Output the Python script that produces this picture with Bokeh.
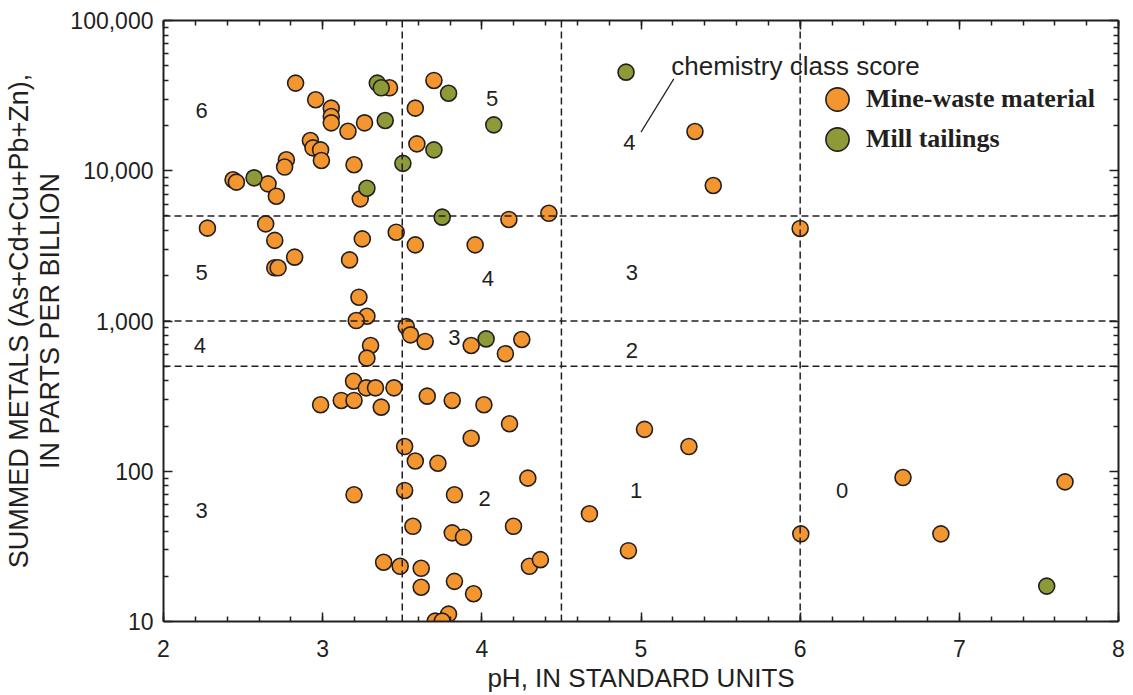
from bokeh.plotting import figure
from bokeh.models import (LinearAxis, LogAxis, FixedTicker, NumeralTickFormatter,
                          Span, Legend, LegendItem)
from bokeh.core.properties import value
from bokeh.embed import file_html
from bokeh.resources import INLINE

# ---------------- data ----------------
mine_ph = [2.83, 2.956, 3.054, 3.054, 3.054, 3.159, 3.263, 3.42, 3.699, 3.582,
           3.592, 3.197, 2.923, 2.939, 2.987, 2.992, 2.772, 2.761, 2.437, 2.458,
           2.657, 2.709, 3.236, 4.17, 4.421, 2.276, 2.642, 2.699, 2.824, 2.699,
           2.72, 3.169, 3.249, 3.462, 3.582, 3.958, 3.228, 5.339, 5.454, 6.0,
           3.278, 3.211, 3.525, 3.552, 3.644, 3.301, 3.278, 3.933, 4.148, 4.251,
           3.194, 3.274, 3.332, 3.448, 3.117, 3.197, 2.987, 3.368, 3.657, 3.814,
           4.013, 4.174, 3.933, 3.515, 3.582, 3.724, 4.289, 3.197, 3.515, 3.828,
           4.676, 3.567, 3.814, 3.885, 4.199, 3.383, 3.487, 3.619, 3.619, 3.828,
           3.948, 4.299, 4.368, 3.791, 3.707, 3.751,
           5.022, 5.301, 4.921, 6.004, 6.646, 6.884, 7.664]
mine_metals = [38300, 29700, 26100, 22960, 20840, 18300, 20840, 35650, 39900, 26100,
               15100, 10960, 15900, 14200, 13770, 11700, 11840, 10580, 8710, 8400,
               8180, 6770, 6500, 4740, 5210, 4150, 4430, 3440, 2660, 2260,
               2260, 2550, 3520, 3900, 3210, 3210, 1440, 18240, 7980, 4130,
               1076, 1007, 918, 809, 731, 687, 566, 687, 606, 753,
               397, 359, 359, 359, 296, 296, 277, 267, 316, 296,
               277, 207, 166, 146, 117, 113, 90, 69.7, 74.5, 69.7,
               52.1, 43, 38.9, 36.4, 43, 24.8, 23.3, 22.6, 16.9, 18.5,
               15.3, 23.3, 25.8, 11.2, 10.05, 10.05,
               190, 146, 29.6, 38.3, 90.8, 38.3, 85]

mill_ph = [3.343, 3.368, 3.393, 3.791, 4.075, 3.699, 3.504, 2.569, 3.278, 3.751,
           4.027, 4.906, 7.549]
mill_metals = [38300, 35650, 21600, 32800, 20200, 13770, 11200, 8970, 7650, 4910,
               760, 45300, 17.2]

# class boundaries
ph_bounds = [3.5, 4.5, 6.0]
metal_bounds = [5000, 1000, 500]

# chemistry class score labels
score_x = [2.239, 4.065, 4.927, 2.239, 4.038, 4.943, 2.228, 3.828, 4.943,
           2.239, 4.017, 4.97, 6.264]
score_y = [25200, 30100, 15500, 2113, 1910, 2113, 687, 780, 637,
           54.8, 65.6, 74, 74]
score_text = ["6", "5", "4", "5", "4", "3", "4", "3", "2", "3", "2", "1", "0"]

note_x = [5.19]
note_y = [50100]
note_text = ["chemistry class score"]
leader_x = [5.206, 5.0]
leader_y = [40900, 18070]

legend_labels = ["Mine-waste material", "Mill tailings"]

x_ticks = [2, 3, 4, 5, 6, 7, 8]
y_ticks = [10, 100, 1000, 10000, 100000]

ORANGE = "#f4962f"
GREEN = "#8e9a37"
INK = "#231f20"
SANS = "Liberation Sans"
SERIF = "Liberation Serif"

p = figure(width=1133, height=695, x_range=(2, 8), y_range=(10, 100000),
           y_axis_type="log", output_backend="svg", toolbar_location=None,
           min_border_left=162, min_border_right=15, min_border_top=20,
           min_border_bottom=74, x_axis_location=None, y_axis_location=None)
p.grid.visible = False
p.outline_line_color = None
p.background_fill_color = "white"

y_minor = [m * 10 ** e for e in range(1, 5) for m in range(2, 10)]
x_minor = [2 + i * 0.2 for i in range(31)]


def style_axis(ax, labels=True):
    ax.axis_line_color = INK
    ax.axis_line_width = 2
    ax.major_tick_line_color = INK
    ax.major_tick_line_width = 1.5
    ax.minor_tick_line_color = INK
    ax.minor_tick_line_width = 1.5
    ax.major_tick_in = 9
    ax.major_tick_out = 0
    ax.minor_tick_in = 5
    ax.minor_tick_out = 0
    if labels:
        ax.major_label_text_font = SANS
        ax.major_label_text_font_size = "23px"
        ax.major_label_text_color = INK
        ax.axis_label_text_font = SANS
        ax.axis_label_text_font_size = "26px"
        ax.axis_label_text_font_style = "normal"
        ax.axis_label_text_color = INK
        ax.axis_label_text_line_height = 1.0
    else:
        ax.major_label_text_font_size = "1px"
        ax.major_label_text_color = None
        ax.major_label_standoff = 0


xb = LinearAxis(ticker=FixedTicker(ticks=x_ticks, minor_ticks=x_minor),
                axis_label="pH, IN STANDARD UNITS")
style_axis(xb)
xb.major_label_standoff = 18
xb.axis_label_standoff = 3
p.add_layout(xb, "below")

xt = LinearAxis(ticker=FixedTicker(ticks=x_ticks, minor_ticks=x_minor))
style_axis(xt, labels=False)
p.add_layout(xt, "above")

yl = LogAxis(ticker=FixedTicker(ticks=y_ticks, minor_ticks=y_minor),
             formatter=NumeralTickFormatter(format="0,0"),
             axis_label="SUMMED METALS (As+Cd+Cu+Pb+Zn),\nIN PARTS PER BILLION")
style_axis(yl)
yl.axis_label_text_font_size = "27px"
yl.axis_label_text_line_height = 1.05
yl.major_label_standoff = 10
yl.axis_label_standoff = 2
p.add_layout(yl, "left")

yr = LogAxis(ticker=FixedTicker(ticks=y_ticks, minor_ticks=y_minor))
style_axis(yr, labels=False)
p.add_layout(yr, "right")

for b in ph_bounds:
    p.add_layout(Span(location=b, dimension="height", line_color=INK,
                      line_width=1.5, line_dash="7 4"))
for b in metal_bounds:
    p.add_layout(Span(location=b, dimension="width", line_color=INK,
                      line_width=1.5, line_dash="7 4"))

p.text(x=score_x, y=score_y, text=score_text, text_font=value(SANS),
       text_font_size="22px", text_color=INK, text_align="center",
       text_baseline="middle")
p.text(x=note_x, y=note_y, text=note_text, text_font=value(SANS),
       text_font_size="26px", text_color=INK, text_align="left",
       text_baseline="alphabetic")
p.line(x=leader_x, y=leader_y, line_color=INK, line_width=1.2)

r_mine = p.scatter(x=mine_ph, y=mine_metals, size=16, fill_color=ORANGE,
                   line_color=INK, line_width=1.6)
r_mill = p.scatter(x=mill_ph, y=mill_metals, size=16, fill_color=GREEN,
                   line_color=INK, line_width=1.6)

legend_style = dict(glyph_width=58, glyph_height=58, spacing=0, padding=0,
                    margin=0, label_standoff=0, border_line_color=None,
                    background_fill_alpha=0, label_text_font=SERIF,
                    label_text_font_style="bold", label_text_font_size="26px",
                    label_text_color=INK)
for label, rend, loc in zip(legend_labels, [r_mine, r_mill], [(645, 493), (645, 453)]):
    p.add_layout(Legend(items=[LegendItem(label=label, renderers=[rend])],
                        location=loc, **legend_style), "center")

open("out.html", "w").write(file_html(p, INLINE))
